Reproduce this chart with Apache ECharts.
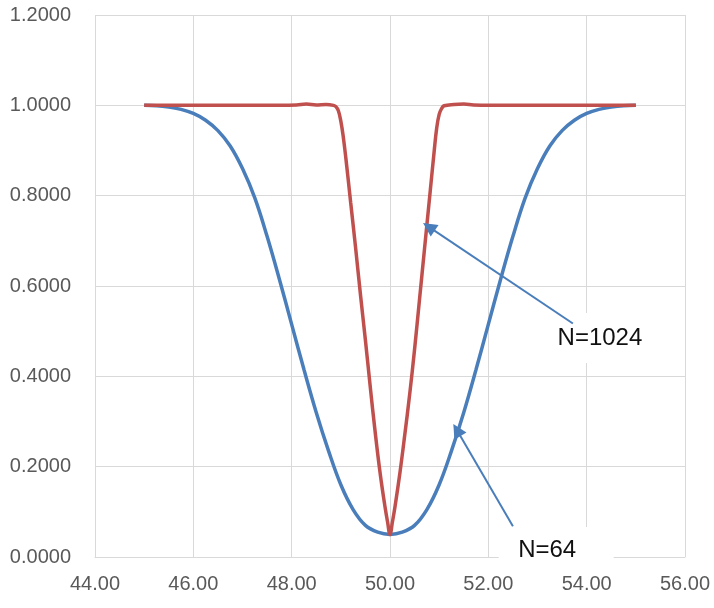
<!DOCTYPE html>
<html>
<head>
<meta charset="utf-8">
<script src="https://cdn.jsdelivr.net/npm/echarts@6/dist/echarts.min.js"></script>
<style>
html,body{margin:0;padding:0;background:#fff;}
#chart{width:714px;height:608px;}
</style>
</head>
<body>
<div id="chart"></div>
<script>
// ---- data ----
const blueX = [45,45.25,45.5,45.75,46,46.25,46.5,46.75,47,47.25,47.5,47.75,48,48.25,48.5,48.75,49,49.25,49.5,49.75,
  50,50.25,50.5,50.75,51,51.25,51.5,51.75,52,52.25,52.5,52.75,53,53.25,53.5,53.75,54,54.25,54.5,54.75,55];
const blueY = [1.000,0.999,0.996,0.991,0.982,0.967,0.944,0.910,0.860,0.795,0.710,0.615,0.515,0.415,0.320,0.235,0.160,0.105,0.070,0.055,
  0.050,0.055,0.070,0.105,0.160,0.235,0.320,0.415,0.515,0.615,0.710,0.795,0.860,0.910,0.944,0.967,0.982,0.991,0.996,0.999,1.000];

const redX = [45,46,47,47.8,48.1,48.3,48.5,48.7,48.85,48.9,48.95,49.0,49.05,49.1,49.2,49.3,49.4,49.5,49.6,49.7,49.8,49.9,49.95,
  50.0,50.05,50.1,50.2,50.3,50.4,50.5,50.6,50.7,50.8,50.9,50.95,51.0,51.05,51.1,51.3,51.5,51.7,52,53,54,55];
const redY = [1.000,1.000,1.000,1.000,1.001,1.003,1.001,1.002,1.000,0.997,0.988,0.965,0.930,0.885,0.785,0.685,0.580,0.480,0.375,0.275,0.185,0.110,0.078,
  0.050,0.078,0.110,0.185,0.270,0.360,0.460,0.570,0.680,0.790,0.900,0.950,0.980,0.993,0.999,1.002,1.003,1.001,1.000,1.000,1.000,1.000];

// annotations (data coordinates)
const annoText   = ['N=1024', 'N=64'];
const annoBox    = [[54.27, 0.485], [53.38, 0.020]];
const annoBoxSz  = [[104, 50], [115, 42]];
const annoTextOff= [[0, 0], [-9, 2]];
const arrowFrom  = [[53.72, 0.517], [52.50, 0.068]];
const arrowTo    = [[50.79, 0.731], [51.36, 0.281]];

const xTicks = {min: 44, max: 56, interval: 2};
const yTicks = {min: 0, max: 1.2, interval: 0.2};

// ---- chart ----
const pair = (xs, ys) => xs.map((x, i) => [x, ys[i]]);
const chart = echarts.init(document.getElementById('chart'), null, {renderer: 'canvas'});
const FONT = '"Liberation Sans", Arial, sans-serif';
const gridColor = '#d9d9d9';
const arrowColor = '#4A7EBB';

chart.setOption({
  animation: false,
  textStyle: {fontFamily: FONT},
  grid: {left: 95, right: 29, top: 15, bottom: 51, containLabel: false},
  xAxis: {
    type: 'value', min: xTicks.min, max: xTicks.max, interval: xTicks.interval,
    axisLine: {show: true, lineStyle: {color: gridColor, width: 1}},
    axisTick: {show: false},
    splitLine: {show: true, lineStyle: {color: gridColor, width: 1}},
    axisLabel: {color: '#595959', fontSize: 20, margin: 17, fontFamily: FONT,
      formatter: v => v.toFixed(2)}
  },
  yAxis: {
    type: 'value', min: yTicks.min, max: yTicks.max, interval: yTicks.interval,
    axisLine: {show: false},
    axisTick: {show: false},
    splitLine: {show: true, lineStyle: {color: gridColor, width: 1}},
    axisLabel: {color: '#595959', fontSize: 20, margin: 24, fontFamily: FONT,
      formatter: v => v.toFixed(4)}
  },
  series: [
    {
      name: 'N=64', type: 'line', z: 2, data: pair(blueX, blueY),
      showSymbol: false, symbol: 'none', smooth: 0.4, clip: false,
      lineStyle: {color: '#4A7EBB', width: 3.5},
      markPoint: {
        silent: true, animation: false, z: 3,
        data: annoText.map((t, i) => ({
          coord: annoBox[i], symbol: 'rect', symbolSize: annoBoxSz[i],
          itemStyle: {color: '#ffffff'},
          label: {show: true, position: 'inside', formatter: t, color: '#111111',
            fontSize: 24, fontFamily: FONT, offset: annoTextOff[i]}
        }))
      }
    },
    {
      name: 'N=1024', type: 'line', z: 4, data: pair(redX, redY),
      showSymbol: false, symbol: 'none', smooth: 0.4, clip: false,
      lineStyle: {color: '#C0504D', width: 3.5},
      markLine: {
        silent: true, animation: false, z: 6,
        symbol: ['none', 'triangle'], symbolSize: 14,
        label: {show: false},
        itemStyle: {color: arrowColor},
        lineStyle: {color: arrowColor, width: 2, type: 'solid'},
        emphasis: {disabled: true},
        data: arrowFrom.map((f, i) => [{coord: f}, {coord: arrowTo[i]}])
      }
    }
  ]
});
</script>
</body>
</html>
